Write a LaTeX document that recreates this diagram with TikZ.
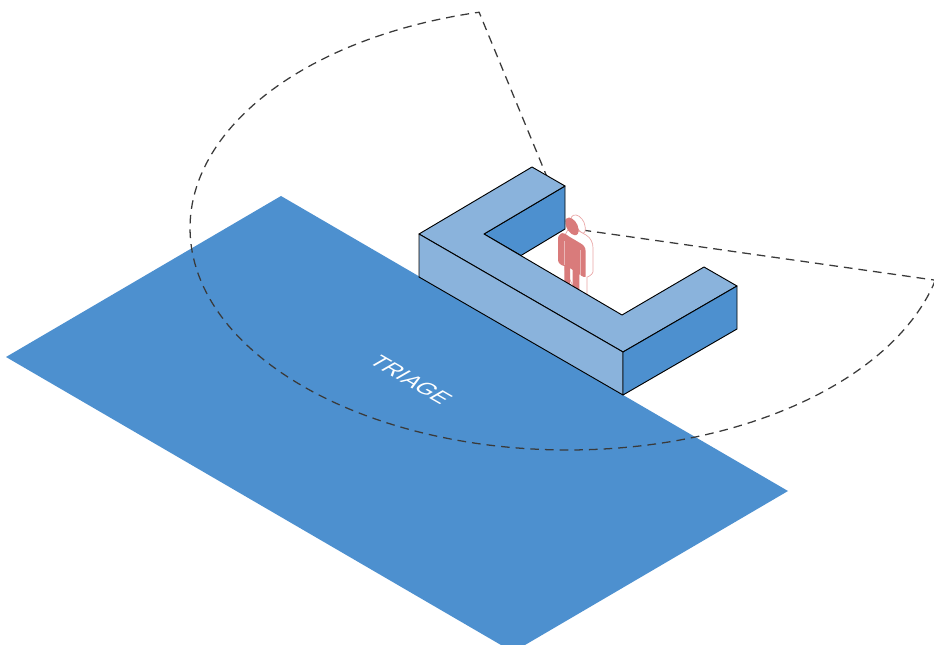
\documentclass[tikz,border=0pt]{standalone}
\usepackage{fontspec}
\setmainfont{Liberation Sans}
\definecolor{floorblue}{HTML}{4D90CF}
\definecolor{topblue}{HTML}{8AB3DC}
\definecolor{personred}{HTML}{D97B7B}
\definecolor{ghostred}{HTML}{E9A5A5}
\definecolor{dashgrey}{HTML}{3A3A3A}
\tikzset{
  floorarea/.style={fill=floorblue,draw=none},
  wallface/.style={draw=black,line width=.7pt,line join=round},
  sector/.style={draw=dashgrey,line width=.95pt,dash pattern=on 6.5pt off 4.5pt},
  ghost/.style={fill=white,draw=ghostred,line width=.5pt,line join=round},
  body/.style={fill=personred,draw=none},
  armline/.style={draw=white,opacity=.45,line width=.3pt}
}
\begin{document}
\begin{tikzpicture}[x=.75pt,y=-.75pt]
\useasboundingbox (0,0) rectangle (934,645);
% floor
\fill[floorarea] (281,196) -- (788,491) -- (525,645) -- (501,645) -- (6,357) -- cycle;
\node[text=white,inner sep=0pt,font=\fontsize{17}{19}\selectfont,transform shape,cm={.866,-.5,.866,.5,(0,0)}] (triage) at (411,380) {TRIAGE};
% sector
\coordinate (c) at (568,228);
\coordinate (s) at (934,280);
\coordinate (e) at (479,12);
\draw[sector] (c) -- (s) plot[domain=13.6:256.4,samples=160] ({568+378*cos(\x)},{228+222*sin(\x)}) -- (c);
% person ghost
\path[ghost] (576,215) .. controls (572,214.5) and (570,218) .. (571,222) -- (582,233) .. controls (585,234) and (586,230) .. (585,226) .. controls (584.5,221) and (580,215.5) .. (576,215) -- cycle;
\path[ghost] (570,226) -- (586,235) .. controls (591,238) and (593,243) .. (593,248) -- (593,272) .. controls (592,275) and (588,277) .. (587,277) -- (587,294) -- (576,292) -- (565,270) -- (565,235) -- cycle;
% person
\fill[body] (569,217.5) .. controls (566.5,217) and (565,219.5) .. (565.5,223) .. controls (566,229) and (570,234) .. (574,235) .. controls (577.5,236) and (579,233) .. (578.5,229) .. controls (578,223) and (573,218) .. (569,217.5) -- cycle;
\fill[body] (561,233.5) .. controls (559,234.5) and (558,236.5) .. (558,240) -- (558,260) .. controls (558,263) and (561,265.5) .. (564.3,266) -- (564.3,290) -- (570,290) -- (570,268) -- (572.7,270) -- (572.7,295) -- (579.3,295) -- (579.3,274) -- (581,275.5) .. controls (583,276.5) and (585,278) .. (585.7,276.7) -- (585.7,252) .. controls (585.7,247) and (583.5,245) .. (580,243) -- (569,236.5) .. controls (566,234) and (563,232.5) .. (561,233.5) -- cycle;
\draw[armline] (564,241) -- (564,265);
\draw[armline] (580,250) -- (580,276);
% wall
\coordinate (a) at (419,234);
\coordinate (b) at (532,167);
\coordinate (d) at (565,186);
\coordinate (f) at (484,234);
\coordinate (g) at (622,315);
\coordinate (h) at (704,267);
\coordinate (i) at (737,286);
\coordinate (j) at (623,352);
\coordinate (a2) at (419,277);
\coordinate (j2) at (623,395);
\coordinate (i2) at (737,329);
\coordinate (d2) at (565,229);
\coordinate (k) at (521,255.5);
\filldraw[wallface,fill=floorblue] (f) -- (d) -- (d2) -- (k) -- cycle;
\filldraw[wallface,fill=topblue] (a) -- (b) -- (d) -- (f) -- (g) -- (h) -- (i) -- (j) -- cycle;
\filldraw[wallface,fill=topblue] (a) -- (a2) -- (j2) -- (j) -- cycle;
\filldraw[wallface,fill=floorblue] (j) -- (i) -- (i2) -- (j2) -- cycle;
\end{tikzpicture}
\end{document}
